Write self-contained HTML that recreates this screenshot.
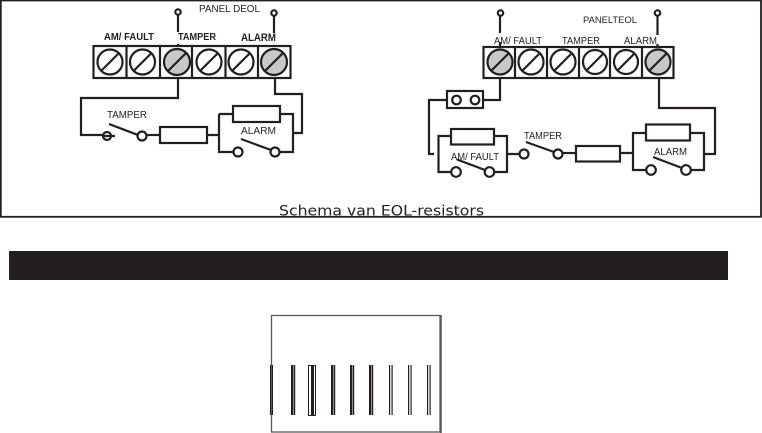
<!DOCTYPE html>
<html>
<head>
<meta charset="utf-8">
<style>
html,body{margin:0;padding:0;background:#fff;width:762px;height:433px;overflow:hidden}
svg{display:block}
text{font-family:"Liberation Sans",sans-serif;fill:#231f20}
</style>
</head>
<body>
<svg width="762" height="433" viewBox="0 0 762 433" xmlns="http://www.w3.org/2000/svg">
<rect x="0.8" y="0.5" width="760.2" height="216.300" fill="none" stroke="#231f20" stroke-width="1.8"/>
<rect x="9" y="251" width="719" height="29" fill="#231f20"/>

<g fill="none" stroke="#231f20" stroke-width="2.2">
<!-- left terminal -->
<rect x="93.500" y="46" width="197" height="32" fill="#fff"/>
<path d="M126.500 46V78M160 46V78M192 46V78M225.500 46V78M258 46V78"/>
<circle cx="110" cy="62" r="12.500"/><circle cx="142.500" cy="62" r="12.500"/>
<circle cx="177" cy="62" r="13" fill="#c8c8c8"/><circle cx="209" cy="62" r="12.500"/>
<circle cx="241" cy="62" r="12.500"/><circle cx="274" cy="62" r="13" fill="#c8c8c8"/>
<path d="M101 71L119 53M133.500 71L151.500 53M168 71L186 53M200 71L218 53M232 71L250 53M265 71L283 53"/>
<!-- left pins -->
<path d="M178 15V32M274 15V33M178 44V45"/>
<circle cx="178" cy="12" r="2.700"/><circle cx="274" cy="13" r="2.700"/>
<!-- left wiring -->
<path d="M178 78V98H81V135H103"/>
<circle cx="107" cy="136" r="4"/>
<path d="M102 136H115M109 124L138 135"/>
<circle cx="142" cy="136" r="4.500"/>
<path d="M146.500 135H160"/>
<rect x="160" y="127" width="47" height="16"/>
<path d="M207 135H219M219 114V152H233M219 114H233"/>
<rect x="233" y="106" width="47" height="16"/>
<path d="M280 114H293V152H279M293 133H302V94H275V78"/>
<circle cx="238" cy="152" r="4.500"/><circle cx="275" cy="152" r="4.500"/>
<path d="M241 139L271 150"/>

<!-- right terminal -->
<rect x="483.500" y="47" width="190" height="31" fill="#fff"/>
<path d="M515 47V78M547 47V78M579 47V78M610 47V78M642 47V78"/>
<circle cx="500" cy="62" r="12.500" fill="#c8c8c8"/><circle cx="531" cy="62" r="12.500"/>
<circle cx="563" cy="62" r="12.500"/><circle cx="595" cy="62" r="12"/>
<circle cx="626" cy="62" r="12"/><circle cx="658" cy="62" r="12.500" fill="#c8c8c8"/>
<path d="M491 71L509 53M522 71L540 53M554 71L572 53M586 71L604 53M617 71L635 53M649 71L667 53"/>
<!-- right pins -->
<path d="M500 15.500V33M500 42V47M657.500 15.500V35M657.500 44V47"/>
<circle cx="500.500" cy="13" r="2.700"/><circle cx="657.500" cy="13" r="2.700"/>
<!-- right wiring -->
<path d="M500 78V100H483"/>
<rect x="447" y="91" width="36" height="17"/>
<circle cx="456.500" cy="100" r="4.300"/><circle cx="475" cy="100" r="4.300"/>
<path d="M447 100H429V154H434"/>
<path d="M451 136H438.500V172H451"/>
<rect x="451" y="129" width="43" height="15.500"/>
<path d="M494 136H507V172H494M507 154H520"/>
<circle cx="456" cy="172" r="4.800"/><circle cx="489.500" cy="172" r="4.800"/>
<path d="M457 159.500L485 170"/>
<circle cx="524" cy="154" r="4.500"/>
<path d="M526 142L554 152"/>
<circle cx="558" cy="154" r="4.500"/>
<path d="M562.500 153H576"/>
<rect x="576" y="146" width="44" height="15.500"/>
<path d="M620 153H633M646 133H633V170H646"/>
<rect x="646" y="124.500" width="44" height="16"/>
<path d="M690 133H704V170H691M704 154H715V108H659V78"/>
<circle cx="651" cy="170" r="4.800"/><circle cx="686" cy="170" r="4.800"/>
<path d="M653 157L682 168"/>
</g>

<!-- labels left -->
<text x="199" y="12" font-size="10" textLength="61" lengthAdjust="spacingAndGlyphs">PANEL DEOL</text>
<text x="104" y="40" font-size="10.500" font-weight="bold" textLength="50" lengthAdjust="spacingAndGlyphs">AM/ FAULT</text>
<text x="178" y="40" font-size="10.500" font-weight="bold" textLength="38" lengthAdjust="spacingAndGlyphs">TAMPER</text>
<text x="241" y="41" font-size="11" font-weight="bold" textLength="35" lengthAdjust="spacingAndGlyphs">ALARM</text>
<text x="107" y="118" font-size="10.500" textLength="40" lengthAdjust="spacingAndGlyphs">TAMPER</text>
<text x="241" y="134" font-size="10" textLength="35" lengthAdjust="spacingAndGlyphs">ALARM</text>
<!-- labels right -->
<text x="583" y="23" font-size="9.500" textLength="54" lengthAdjust="spacingAndGlyphs">PANELTEOL</text>
<text x="494" y="44" font-size="10" textLength="48" lengthAdjust="spacingAndGlyphs">AM/ FAULT</text>
<text x="562" y="44" font-size="10" textLength="38" lengthAdjust="spacingAndGlyphs">TAMPER</text>
<text x="624" y="44" font-size="10" textLength="33" lengthAdjust="spacingAndGlyphs">ALARM</text>
<text x="524" y="139" font-size="10" textLength="38" lengthAdjust="spacingAndGlyphs">TAMPER</text>
<text x="451" y="160" font-size="10" textLength="48" lengthAdjust="spacingAndGlyphs">AM/ FAULT</text>
<text x="654" y="155" font-size="10" textLength="33" lengthAdjust="spacingAndGlyphs">ALARM</text>
<text x="279" y="215.500" font-size="14" textLength="205" lengthAdjust="spacingAndGlyphs" style="font-family:'DejaVu Sans',sans-serif">Schema van EOL-resistors</text>

<!-- bottom box -->
<rect x="271.500" y="315.500" width="168.500" height="116.500" fill="#fff" stroke="#58595b" stroke-width="1.300"/>
<rect x="440" y="315" width="1.800" height="118" fill="#58595b"/>
<g fill="#231f20">
<rect x="270" y="365" width="1" height="50"/><rect x="272" y="365" width="1" height="50"/>
<rect x="291" y="365" width="2.500" height="50"/><rect x="294" y="365" width="1.200" height="50"/>
<rect x="311" y="365" width="3" height="50"/>
<rect x="331" y="365" width="2.500" height="50"/><rect x="334" y="365" width="1.200" height="50"/>
<rect x="350" y="365" width="2.500" height="50"/><rect x="353" y="365" width="1.200" height="50"/>
<rect x="369" y="365" width="2.500" height="50"/><rect x="372" y="365" width="1.200" height="50"/>
<rect x="389" y="365" width="1.200" height="50"/><rect x="391.500" y="365" width="1.200" height="50"/>
<rect x="408" y="365" width="1.200" height="50"/><rect x="410.500" y="365" width="1.200" height="50"/>
<rect x="427" y="365" width="1.200" height="50"/><rect x="429.500" y="365" width="1.200" height="50"/>
</g>
<rect x="308.500" y="365.500" width="7" height="50" fill="none" stroke="#231f20" stroke-width="1"/>
</svg>
</body>
</html>
